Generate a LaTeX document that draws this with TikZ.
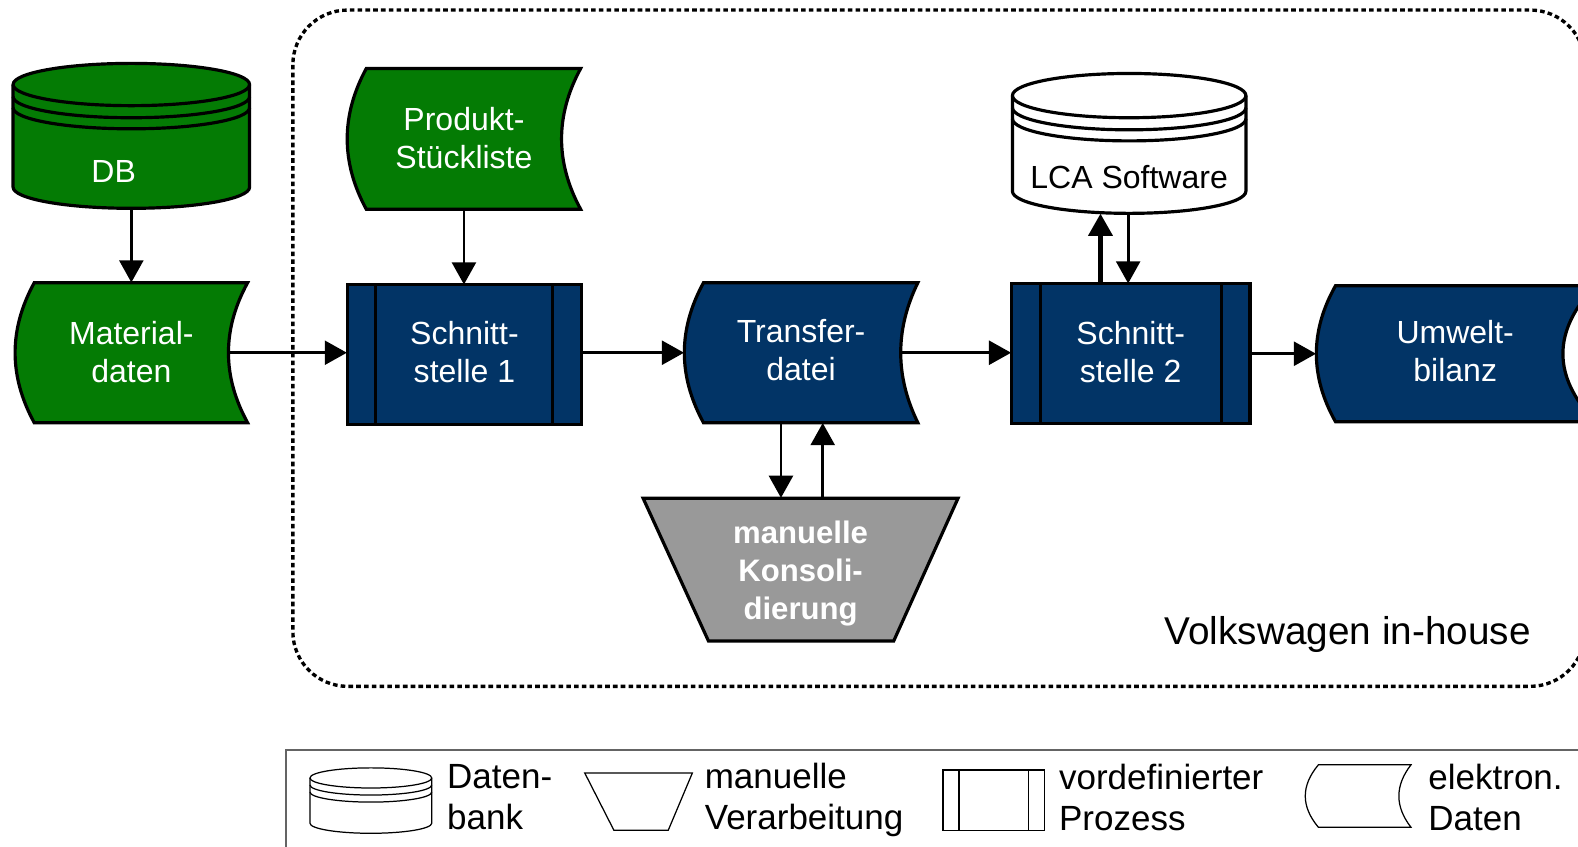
\documentclass[tikz,border=0pt]{standalone}
\usepackage{fontspec}
\setmainfont{Liberation Sans}
\usetikzlibrary{arrows.meta,calc}
\definecolor{vwgreen}{RGB}{4,123,4}
\definecolor{vwblue}{RGB}{2,52,102}
\definecolor{kgray}{RGB}{153,153,153}
\definecolor{lgray}{RGB}{100,100,100}

% data shape: #1 left apex x, #2 top y, #3 right corner x, #4 bottom y, #5 left depth, #6 right depth, #7 style
\newcommand{\datashape}[7]{%
  \path[#7] ({#1+#5},#2) -- (#3,#2)
   .. controls ({#3-1.3333*#6},{#2+(#4-#2)/3}) and ({#3-1.3333*#6},{#4-(#4-#2)/3}) .. (#3,#4)
   -- ({#1+#5},#4)
   .. controls ({#1-0.3333*#5},{#4-(#4-#2)/3}) and ({#1-0.3333*#5},{#2+(#4-#2)/3}) .. ({#1+#5},#2) -- cycle;}
% cylinder body: #1 x1, #2 x2, #3 top centre y, #4 bottom centre y, #5 ry, #6 style
\newcommand{\cylbody}[6]{%
  \pgfmathsetmacro{\mycx}{(#1+#2)/2}%
  \pgfmathsetmacro{\myrx}{(#2-#1)/2}%
  \path[#6] (#1,#3) -- (#1,#4)
    .. controls (#1,{#4+0.5523*#5}) and ({\mycx-0.5523*\myrx},{#4+#5}) .. (\mycx,{#4+#5})
    .. controls ({\mycx+0.5523*\myrx},{#4+#5}) and (#2,{#4+0.5523*#5}) .. (#2,#4)
    -- (#2,#3)
    .. controls (#2,{#3-0.5523*#5}) and ({\mycx+0.5523*\myrx},{#3-#5}) .. (\mycx,{#3-#5})
    .. controls ({\mycx-0.5523*\myrx},{#3-#5}) and (#1,{#3-0.5523*#5}) .. (#1,#3) -- cycle;}
% lower half ellipse: #1 x1, #2 x2, #3 centre y, #4 ry, #5 style
\newcommand{\cylring}[5]{%
  \pgfmathsetmacro{\mycx}{(#1+#2)/2}%
  \pgfmathsetmacro{\myrx}{(#2-#1)/2}%
  \path[#5] (#1,#3) .. controls (#1,{#3+0.5523*#4}) and ({\mycx-0.5523*\myrx},{#3+#4}) .. (\mycx,{#3+#4})
    .. controls ({\mycx+0.5523*\myrx},{#3+#4}) and (#2,{#3+0.5523*#4}) .. (#2,#3);}

\tikzset{
  shp/.style={draw=black, line width=1.8pt, line join=miter},
  lshp/.style={draw=black, line width=0.7pt, fill=white},
  conn/.style={line width=1.6pt, -{Triangle[length=12.5pt,width=13.5pt]}},
  area/.style={inner sep=0pt},
  lbl/.style={inner sep=0pt, align=center, text=white,
    font=\fontsize{18.1pt}{21.5pt}\selectfont},
  legtext/.style={inner sep=0pt, align=left, anchor=west,
    font=\fontsize{19.8pt}{23.2pt}\selectfont},
}

\begin{document}
\begin{tikzpicture}[x=0.02cm,y=-0.02cm]
\useasboundingbox (0,0) rectangle (1568,841);
\clip (0,0) rectangle (1568,841);

% in-house frame
\draw[line width=1.9pt, dash pattern=on 2.6pt off 1.8pt, rounded corners=31pt]
  (291,10) rectangle (1575,682);

% ---- shapes ----
% DB
\cylbody{13}{248}{84}{186}{21}{shp, fill=vwgreen}
\cylring{13}{248}{84}{21}{shp}
\cylring{13}{248}{96}{21}{shp}
\cylring{13}{248}{107}{21}{shp}
% Materialdaten
\datashape{15}{281}{246}{420}{19}{19}{shp, fill=vwgreen}
% Produkt-Stueckliste
\datashape{345}{68}{577}{208}{19}{19}{shp, fill=vwgreen}
% Schnittstelle 1
\path[shp, fill=vwblue] (345,283) rectangle (578,422);
\draw[line width=1.8pt] (373,283) -- (373,422) (549,283) -- (549,422);
% Transferdatei
\datashape{680}{281}{912}{420}{19}{17}{shp, fill=vwblue}
% manuelle Konsolidierung
\path[shp, fill=kgray] (639,495) -- (952,495) -- (888,637) -- (704,637) -- cycle;
% LCA Software
\cylbody{1006}{1238}{95}{190}{22}{shp, fill=white}
\cylring{1006}{1238}{95}{22}{shp}
\cylring{1006}{1238}{107}{22}{shp}
\cylring{1006}{1238}{118}{22}{shp}
% Schnittstelle 2
\path[shp, fill=vwblue] (1005,282) rectangle (1242,421);
\draw[line width=1.8pt] (1034,282) -- (1034,421) (1214,282) -- (1214,421);
% Umweltbilanz
\datashape{1308}{284}{1585}{419}{19}{32}{shp, fill=vwblue}

% ---- shape nodes (outlines drawn above) ----
\node[area, minimum width=4.7cm, minimum height=2.9cm] (db) at (130.5,135.5) {};
\node[area, minimum width=4.62cm, minimum height=2.78cm] (mat) at (130.5,350.5) {};
\node[area, minimum width=4.64cm, minimum height=2.8cm] (prod) at (461,138) {};
\node[area, minimum width=4.66cm, minimum height=2.78cm] (s1) at (461.5,352.5) {};
\node[area, minimum width=4.64cm, minimum height=2.78cm] (trans) at (796,350.5) {};
\node[area, minimum width=6.26cm, minimum height=2.84cm] (kons) at (795.5,566) {};
\node[area, minimum width=4.64cm, minimum height=2.78cm] (lca) at (1122,142.5) {};
\node[area, minimum width=4.74cm, minimum height=2.78cm] (s2) at (1123.5,351.5) {};
\node[area, minimum width=5.54cm, minimum height=2.7cm] (umw) at (1446.5,351.5) {};

% ---- labels ----
\node[lbl] (dblabel) at (113,170) {DB};
\node[lbl] (matlabel) at (130.5,349.5) {Material-\\daten};
\node[lbl] (prodlabel) at (461,137) {Produkt-\\Stückliste};
\node[lbl] (s1label) at (461.5,349.5) {Schnitt-\\stelle 1};
\node[lbl] (translabel) at (796,347.5) {Transfer-\\datei};
\node[lbl, font=\fontsize{17.6pt}{21.5pt}\selectfont\bfseries] (konslabel) at (795.5,570) {manuelle\\Konsoli-\\dierung};
\node[lbl, text=black] (lcalabel) at (1122,176) {LCA Software};
\node[lbl] (s2label) at (1123.5,349.5) {Schnitt-\\stelle 2};
\node[lbl] (umwlabel) at (1446,349) {Umwelt-\\bilanz};
\node[inner sep=0pt, anchor=base west, font=\fontsize{21.9pt}{26pt}\selectfont] (vw) at (1157,640) {Volkswagen in-house};

% ---- connectors ----
\draw[conn] (db.south) -- (mat.north);
\draw[conn] ($(mat.east)+(-18,0)$) -- (mat.east -| s1.west);
\draw[conn] (prod.south) -- (prod.south |- s1.north);
\draw[conn] (s1.east |- trans.west) -- (trans.west);
\draw[conn] ($(trans.east)+(-17,0)$) -- (trans.east -| s2.west);
\draw[conn] (s2.east) -- (s2.east -| umw.west);
\coordinate (t1) at ($(trans.south)+(-20,0)$);
\coordinate (k1) at ($(kons.north)+(22,0)$);
\draw[conn] (t1) -- (t1 |- kons.north);
\draw[conn] (k1) -- (k1 |- trans.south);
\coordinate (s2a) at ($(s2.north)+(-30,0)$);
\coordinate (l1) at ($(lca.south)+(-1,0)$);
\draw[conn, line width=2.3pt] (s2a) -- (s2a |- lca.south);
\draw[conn] (l1) -- (l1 |- s2.north);

% ---- legend ----
\draw[lgray, line width=1pt] (284,850) -- (284,745) -- (1580,745);
\cylbody{308}{429}{773}{818}{10}{lshp}
\cylring{308}{429}{773}{10}{lshp, fill=none}
\cylring{308}{429}{780}{10}{lshp, fill=none}
\cylring{308}{429}{787}{10}{lshp, fill=none}
\node[legtext] (leg1) at (444,792) {Daten-\\bank};
\path[lshp] (581,768) -- (688,768) -- (664,825) -- (610,825) -- cycle;
\node[legtext] (leg2) at (700,795) {manuelle\\Verarbeitung};
\path[lshp] (937,765) rectangle (1038,825);
\draw[line width=0.7pt] (953,765) -- (953,825) (1022,765) -- (1022,825);
\node[legtext] (leg3) at (1052,792) {vordefinierter\\Prozess};
\datashape{1297}{760}{1402}{822}{13}{12}{lshp}
\node[legtext] (leg4) at (1419,792) {elektron.\\Daten};
\end{tikzpicture}
\end{document}
